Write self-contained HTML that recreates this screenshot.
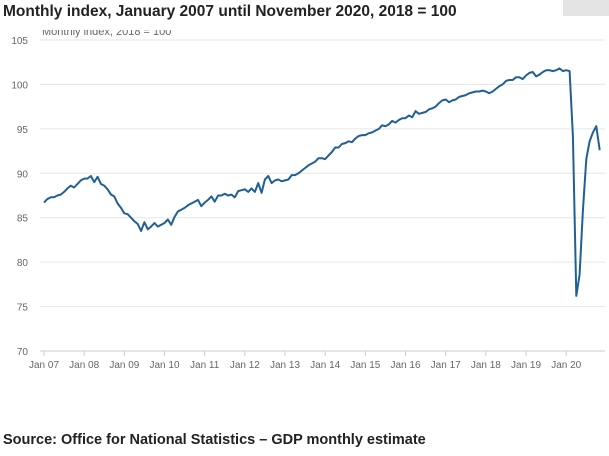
<!DOCTYPE html>
<html><head><meta charset="utf-8"><style>
body{margin:0;background:#fff;width:609px;height:456px;overflow:hidden;font-family:"Liberation Sans",sans-serif}
</style></head><body>
<svg width="609" height="456" style="position:absolute;left:0;top:0">
<g id="grid"></g>
<text x="42" y="35" font-size="11" fill="#666">Monthly index, 2018 = 100</text>
<rect x="30" y="18" width="530" height="12" fill="#fff"/>
<text x="3" y="16" font-size="15.5" font-weight="bold" fill="#222">Monthly index, January 2007 until November 2020, 2018 = 100</text>
<rect x="563" y="0" width="46" height="16" fill="#e4e4e4"/>
<g id="axes"></g>
<path id="line" fill="none" stroke="#206095" stroke-width="2" stroke-linejoin="round"/>
<text x="3" y="444" font-size="14.5" font-weight="bold" fill="#222">Source: Office for National Statistics – GDP monthly estimate</text>
</svg>
<script>
const yTicks=[70,75,80,85,90,95,100,105];
const xTickLabels=["Jan 07","Jan 08","Jan 09","Jan 10","Jan 11","Jan 12","Jan 13","Jan 14","Jan 15","Jan 16","Jan 17","Jan 18","Jan 19","Jan 20"];
const startYear=2007;
const values=[
86.7,87.1,87.3,87.3,87.5,87.6,87.9,88.3,88.6,88.4,88.8,89.2,
89.4,89.4,89.7,89.0,89.6,88.8,88.6,88.2,87.6,87.4,86.6,86.1,
85.5,85.4,85.0,84.6,84.3,83.5,84.5,83.7,84.0,84.4,84.0,84.2,
84.4,84.8,84.2,85.1,85.7,85.9,86.1,86.4,86.6,86.8,87.0,86.3,
86.7,87.0,87.4,86.8,87.5,87.5,87.7,87.5,87.6,87.3,88.0,88.1,
88.2,87.9,88.3,87.9,88.9,87.8,89.3,89.7,88.9,89.2,89.3,89.1,
89.2,89.3,89.8,89.8,90.0,90.3,90.6,90.9,91.1,91.3,91.7,91.7,
91.6,92.0,92.4,92.9,92.9,93.3,93.4,93.6,93.5,93.9,94.2,94.3,
94.3,94.5,94.6,94.8,95.0,95.4,95.3,95.5,95.9,95.7,96.0,96.2,
96.2,96.5,96.3,97.0,96.7,96.8,96.9,97.2,97.3,97.5,97.9,98.2,
98.3,98.0,98.2,98.3,98.6,98.7,98.8,99.0,99.1,99.2,99.2,99.3,
99.2,99.0,99.2,99.5,99.8,100.0,100.4,100.5,100.5,100.8,100.8,100.6,
101.0,101.3,101.4,100.9,101.1,101.4,101.6,101.6,101.5,101.6,101.8,101.5,
101.6,101.5,94.2,76.2,78.6,85.8,91.6,93.6,94.6,95.3,92.6];
const NS="http://www.w3.org/2000/svg";
const y=v=>351-(v-70)*(311/35);
const x=i=>44+i*(40.17/12);
const grid=document.getElementById('grid'),axes=document.getElementById('axes');
yTicks.forEach(t=>{
 const l=document.createElementNS(NS,'line');
 l.setAttribute('x1',40);l.setAttribute('x2',605);l.setAttribute('y1',y(t));l.setAttribute('y2',y(t));
 l.setAttribute('stroke',t===70?'#ccc':'#e6e6e6');l.setAttribute('stroke-width',1);
 
 
 grid.appendChild(l);
 const tx=document.createElementNS(NS,'text');
 tx.setAttribute('x',28);tx.setAttribute('y',y(t)+4);tx.setAttribute('text-anchor','end');
 tx.setAttribute('font-size',10);tx.setAttribute('fill','#666');tx.textContent=t;
 
 
 axes.appendChild(tx);
});
xTickLabels.forEach((lab,k)=>{
 const px=x(k*12);
 const l=document.createElementNS(NS,'line');
 l.setAttribute('x1',px);l.setAttribute('x2',px);l.setAttribute('y1',351);l.setAttribute('y2',356);
 l.setAttribute('stroke','#ccc');
 
 
 axes.appendChild(l);
 const tx=document.createElementNS(NS,'text');
 tx.setAttribute('x',px);tx.setAttribute('y',368);tx.setAttribute('text-anchor','middle');
 tx.setAttribute('font-size',10);tx.setAttribute('fill','#666');tx.textContent=lab;
 
 
 axes.appendChild(tx);
});
document.getElementById('line').setAttribute('d',values.map((v,i)=>(i?'L':'M')+x(i).toFixed(1)+' '+y(v).toFixed(1)).join(''));
</script>
</body></html>
